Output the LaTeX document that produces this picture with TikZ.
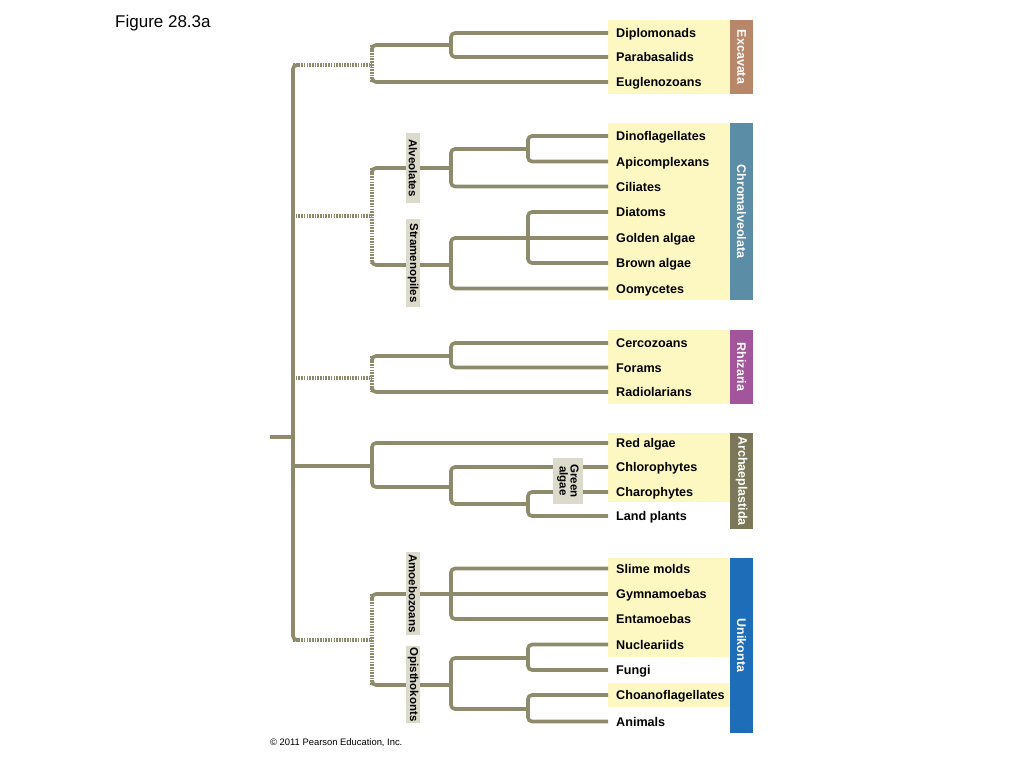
\documentclass[tikz,border=0pt]{standalone}
\usepackage{fontspec}
\setmainfont{Liberation Sans}

\definecolor{treecol}{HTML}{8E8B6D}
\definecolor{leafbg}{HTML}{FDF8C2}
\definecolor{labelgray}{HTML}{DCDBCB}
\definecolor{excol}{HTML}{B8876A}
\definecolor{chrcol}{HTML}{5B8DA6}
\definecolor{rhicol}{HTML}{A2559A}
\definecolor{arccol}{HTML}{7C7759}
\definecolor{unicol}{HTML}{1E6DB8}

\tikzset{
    branch/.style={draw=treecol, line width=3.6pt, rounded corners=4pt},
    dotbranch/.style={draw=treecol, line width=3.2pt, dash pattern=on 1.6pt off 1.1pt},
    leaf/.style={anchor=west, inner xsep=8pt, inner ysep=0pt, text height=9pt, text depth=0pt,
        font=\fontsize{12.6}{14}\selectfont\bfseries},
    cladebar/.style={rotate=-90, text=white, minimum height=23pt, inner sep=0pt,
        font=\fontsize{12.5}{14}\selectfont\bfseries},
    grouplabel/.style={rotate=-90, fill=labelgray, minimum height=14pt, inner sep=0pt,
        font=\fontsize{11.5}{11}\selectfont\bfseries}
}

\begin{document}
\begin{tikzpicture}[x=1pt, y=-1pt]

        \useasboundingbox (0,0) rectangle (1024,768);

        % title and credit
            \node[anchor=base west, inner sep=0pt, font=\fontsize{17}{19}\selectfont] (title) at (115,28) {Figure 28.3a};
            \node[anchor=base west, inner sep=0pt, font=\fontsize{9.4}{10}\selectfont] (credit) at (270,745) {\textcopyright\ 2011 Pearson Education, Inc.};

        % yellow boxes behind the names
            \fill[leafbg] (608,20) rectangle (730,94);
            \fill[leafbg] (608,123) rectangle (730,300);
            \fill[leafbg] (608,330) rectangle (730,404);
            \fill[leafbg] (608,433) rectangle (730,502);
            \fill[leafbg] (608,558) rectangle (730,657);
            \fill[leafbg] (608,683) rectangle (730,707);

        % supergroup bars
            \node[cladebar, fill=excol, minimum width=74pt] (excavata) at (741.5,57) {Excavata};
            \node[cladebar, fill=chrcol, minimum width=177pt] (chromalveolata) at (741.5,211.5) {Chromalveolata};
            \node[cladebar, fill=rhicol, minimum width=74pt] (rhizaria) at (741.5,367) {Rhizaria};
            \node[cladebar, fill=arccol, minimum width=96pt] (archaeplastida) at (741.5,481) {Archaeplastida};
            \node[cladebar, fill=unicol, minimum width=175pt] (unikonta) at (741.5,645.5) {Unikonta};

        % leaves
            \node[leaf] (dipl) at (608,33) {Diplomonads};
            \node[leaf] (para) at (608,57) {Parabasalids};
            \node[leaf] (eugl) at (608,82) {Euglenozoans};
            \node[leaf] (dino) at (608,136) {Dinoflagellates};
            \node[leaf] (apic) at (608,161.5) {Apicomplexans};
            \node[leaf] (cili) at (608,186.5) {Ciliates};
            \node[leaf] (diat) at (608,212) {Diatoms};
            \node[leaf] (gold) at (608,238) {Golden algae};
            \node[leaf] (brow) at (608,263) {Brown algae};
            \node[leaf] (oomy) at (608,288.5) {Oomycetes};
            \node[leaf] (cerc) at (608,343) {Cercozoans};
            \node[leaf] (fora) at (608,367.5) {Forams};
            \node[leaf] (radi) at (608,392) {Radiolarians};
            \node[leaf] (reda) at (608,443) {Red algae};
            \node[leaf] (chlo) at (608,467) {Chlorophytes};
            \node[leaf] (char) at (608,492) {Charophytes};
            \node[leaf] (land) at (608,516) {Land plants};
            \node[leaf] (slim) at (608,568.5) {Slime molds};
            \node[leaf] (gymn) at (608,594) {Gymnamoebas};
            \node[leaf] (enta) at (608,619) {Entamoebas};
            \node[leaf] (nucl) at (608,644.5) {Nucleariids};
            \node[leaf] (fung) at (608,670) {Fungi};
            \node[leaf] (choa) at (608,695) {Choanoflagellates};
            \node[leaf] (anim) at (608,721.5) {Animals};

        % branch points
            \coordinate (rootstub) at (270,437);
            \coordinate (root) at (293,437);
            \coordinate (mtop) at (293,65);
            \coordinate (mbot) at (293,640);
            \coordinate (exc) at (372,65);
            \coordinate (exc1) at (451,45);
            \coordinate (chr) at (372,216);
            \coordinate (alv) at (451,168);
            \coordinate (alv1) at (528,149);
            \coordinate (str) at (451,265);
            \coordinate (str1) at (528,238);
            \coordinate (rhi) at (372,378);
            \coordinate (rhi1) at (451,356);
            \coordinate (arch) at (372,466);
            \coordinate (arch1) at (451,487);
            \coordinate (arch2) at (528,504);
            \coordinate (uni) at (372,640);
            \coordinate (amo) at (451,594);
            \coordinate (opi) at (451,685);
            \coordinate (opi1) at (528,658);
            \coordinate (opi2) at (528,709);

        % root and main stem
            \draw[branch, rounded corners=0pt] (rootstub) -- (root);
            \draw[branch] ([xshift=6pt]mtop) -- (mtop) -- (mbot) -- ([xshift=6pt]mbot);

        % Excavata
            \draw[dotbranch] (mtop) -- (exc);
            \draw[dotbranch] (exc1 -| exc) -- (eugl.west -| exc);
            \draw[branch] ([yshift=-5pt]exc1 -| exc) |- (exc1);
            \draw[branch] ([yshift=5pt]eugl.west -| exc) |- (eugl.west);
            \draw[branch] (dipl.west) -| (exc1) |- (para.west);

        % Chromalveolata
            \draw[dotbranch] (chr -| root) -- (chr);
            \draw[dotbranch] (alv -| chr) -- (str -| chr);
            \draw[branch] ([yshift=-5pt]alv -| chr) |- (alv);
            \draw[branch] ([yshift=5pt]str -| chr) |- (str);
            \draw[branch] (dino.west) -| (alv1) |- (apic.west);
            \draw[branch] (alv1) -| (alv) |- (cili.west);
            \draw[branch] (diat.west) -| (str1) |- (brow.west);
            \draw[branch] (gold.west) -| (str) |- (oomy.west);

        % Rhizaria
            \draw[dotbranch] (rhi -| root) -- (rhi);
            \draw[dotbranch] (rhi1 -| rhi) -- (radi.west -| rhi);
            \draw[branch] ([yshift=-5pt]rhi1 -| rhi) |- (rhi1);
            \draw[branch] ([yshift=5pt]radi.west -| rhi) |- (radi.west);
            \draw[branch] (cerc.west) -| (rhi1) |- (fora.west);

        % Archaeplastida
            \draw[branch] (arch -| root) -- (arch);
            \draw[branch] (reda.west) -| (arch) |- (arch1);
            \draw[branch] (chlo.west) -| (arch1) |- (arch2);
            \draw[branch] (char.west) -| (arch2) |- (land.west);

        % Unikonta
            \draw[dotbranch] (mbot) -- (uni);
            \draw[dotbranch] (amo -| uni) -- (opi -| uni);
            \draw[branch] ([yshift=-5pt]amo -| uni) |- (amo);
            \draw[branch] ([yshift=5pt]opi -| uni) |- (opi);
            \draw[branch] (slim.west) -| (amo) |- (enta.west);
            \draw[branch] (amo) -- (gymn.west);
            \draw[branch] (opi1) -| (opi) |- (opi2);
            \draw[branch] (nucl.west) -| (opi1) |- (fung.west);
            \draw[branch] (choa.west) -| (opi2) |- (anim.west);

        % group labels on the branches
            \node[grouplabel, minimum width=70pt] (alveolates) at (413,168) {Alveolates};
            \node[grouplabel, minimum width=88pt] (stramenopiles) at (413,263) {Stramenopiles};
            \node[grouplabel, minimum width=83pt] (amoebozoans) at (413,593.5) {Amoebozoans};
            \node[grouplabel, minimum width=77pt] (opisthokonts) at (413,684.5) {Opisthokonts};
            \node[grouplabel, minimum width=46pt, minimum height=30pt, align=center] (greenalgae) at (568,481) {Green\\algae};

\end{tikzpicture}
\end{document}
